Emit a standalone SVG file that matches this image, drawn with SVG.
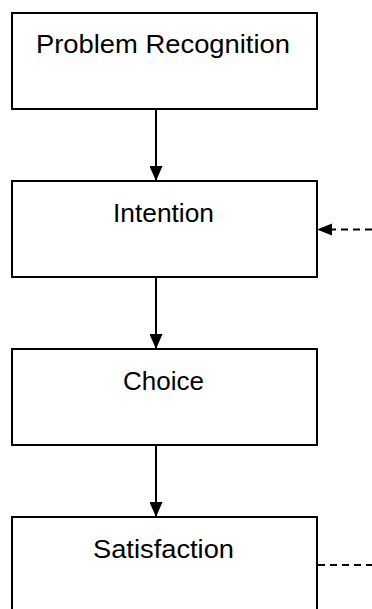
<svg xmlns="http://www.w3.org/2000/svg" width="372" height="609" viewBox="0 0 372 609">
<defs>
<style>
.box{fill:#fff;stroke:#000;stroke-width:2}
.lbl{font-family:"Liberation Sans",Arial,sans-serif;font-size:25px;fill:#000;text-anchor:middle}
.ln{stroke:#000;stroke-width:2;fill:none}
.dash{stroke:#000;stroke-width:2;fill:none;stroke-dasharray:7 5}
</style>
<marker id="ah2" viewBox="0 0 15 13" refX="15" refY="6.5" markerWidth="15" markerHeight="13" markerUnits="userSpaceOnUse" orient="auto">
<path d="M0,0 L15,6.5 L0,13 Z" fill="#000"/>
</marker>
</defs>
<rect width="372" height="609" fill="#fff"/>
<g id="connectors">
<line class="ln" x1="156" y1="109" x2="156" y2="181" marker-end="url(#ah2)"/>
<line class="ln" x1="156" y1="277" x2="156" y2="349" marker-end="url(#ah2)"/>
<line class="ln" x1="156" y1="445" x2="156" y2="517" marker-end="url(#ah2)"/>
<line class="dash" x1="372" y1="229.5" x2="330" y2="229.5"/>
<path d="M317,229.5 L332,223.5 L332,235.5 Z" fill="#000"/>
<line class="dash" x1="318" y1="565" x2="372" y2="565"/>
</g>
<g id="node-problem-recognition">
<rect class="box" x="12" y="13" width="305" height="96"/>
<text class="lbl" x="163" y="53" textLength="254" lengthAdjust="spacingAndGlyphs">Problem Recognition</text>
</g>
<g id="node-intention">
<rect class="box" x="12" y="181" width="305" height="96"/>
<text class="lbl" x="163.5" y="222" textLength="101" lengthAdjust="spacingAndGlyphs">Intention</text>
</g>
<g id="node-choice">
<rect class="box" x="12" y="349" width="305" height="96"/>
<text class="lbl" x="163.5" y="390" textLength="81" lengthAdjust="spacingAndGlyphs">Choice</text>
</g>
<g id="node-satisfaction">
<rect class="box" x="12" y="517" width="305" height="110"/>
<text class="lbl" x="163.5" y="558" textLength="141" lengthAdjust="spacingAndGlyphs">Satisfaction</text>
</g>
</svg>
